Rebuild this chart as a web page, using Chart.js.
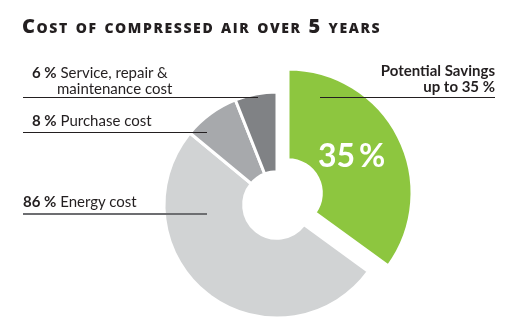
<!DOCTYPE html>
<html>
<head>
<meta charset="utf-8">
<script src="https://cdn.jsdelivr.net/npm/chart.js@4/dist/chart.umd.min.js"></script>
<style>
  body { margin: 0; background: #fff; overflow: hidden; font-family: Lato, 'Open Sans', sans-serif; color: #231f20; }
  #stage { position: relative; width: 513px; height: 326px; }
  #pie { position: absolute; left: 0; top: 0; }
  h1 { position: absolute; left: 22px; top: 12px; margin: 0; font-family: 'Open Sans', sans-serif; font-size: 20px; font-weight: 800; font-variant: small-caps; letter-spacing: 1.6px; white-space: nowrap; }
  .lbl { position: absolute; white-space: nowrap; font-size: 15px; line-height: 16px; z-index: 2; }
  .lbl b { font-weight: 700; }
  .rule { position: absolute; height: 1px; background: #231f20; z-index: 2; }
  .big { position: absolute; left: 318px; top: 137px; font-size: 32px; line-height: 36px; color: #fff; font-weight: 700; word-spacing: -4px; z-index: 2; white-space: nowrap; }
</style>
</head>
<body>
<div id="stage">
  <canvas id="pie" width="513" height="326"></canvas>
  <h1>Cost of compressed air over 5 years</h1>

  <div class="lbl" style="left:32px; top:64px;"><b>6 %</b> Service, repair &amp;<br><span style="padding-left:25px">maintenance cost</span></div>
  <div class="rule" style="left:23px; top:97px; width:235px;"></div>

  <div class="lbl" style="left:32px; top:112px;"><b>8 %</b> Purchase cost</div>
  <div class="rule" style="left:23px; top:132px; width:184px;"></div>

  <div class="lbl" style="left:23px; top:193px;"><b>86 %</b> Energy cost</div>
  <div class="rule" style="left:23px; top:213px; width:184px; background:#6d6e71; height:1.5px;"></div>

  <div class="lbl" style="right:18px; top:62px; text-align:right;"><b>Potential Savings<br>up to 35 %</b></div>
  <div class="rule" style="left:320px; top:97px; width:175px;"></div>

  <div class="big" id="savingsText"></div>
</div>

<script>
// shares of the 5-year cost, in percent
const costLabels = ['Energy cost', 'Purchase cost', 'Service, repair & maintenance cost'];
const costShares = [86, 8, 6];
const savingsShare = 35;   // part of the energy cost that can be saved

const sliceLabels = ['Potential Savings', 'Energy cost (remaining)', 'Purchase cost', 'Service, repair & maintenance cost'];
const sliceColors = ['#8dc63f', '#d1d3d4', '#a7a9ac', '#808285'];

const sliceValues = [savingsShare, costShares[0] - savingsShare, costShares[1], costShares[2]];

document.getElementById('savingsText').textContent = savingsShare + ' %';

// pull the savings slice out and make it a bit bigger than the rest
const pullOut = {
    id: 'pullOut',
    afterDatasetUpdate(chart, args) {
        const arc = chart.getDatasetMeta(args.index).data[0];
        if (!arc) return;
        arc.x += 11;
        arc.y -= 12;
        arc.outerRadius += 11;
    }
};

new Chart(document.getElementById('pie'), {
    type: 'doughnut',
    data: {
        labels: sliceLabels,
        datasets: [{
            data: sliceValues,
            backgroundColor: sliceColors,
            borderColor: '#ffffff',
            borderWidth: 3,
            clip: false
        }]
    },
    options: {
        responsive: false,
        animation: false,
        events: [],
        radius: 113,
        cutout: '29.5%',
        layout: { padding: { left: 41, top: 84, right: 0, bottom: 0 } },
        plugins: { legend: { display: false }, tooltip: { enabled: false } }
    },
    plugins: [pullOut]
});
</script>
</body>
</html>
